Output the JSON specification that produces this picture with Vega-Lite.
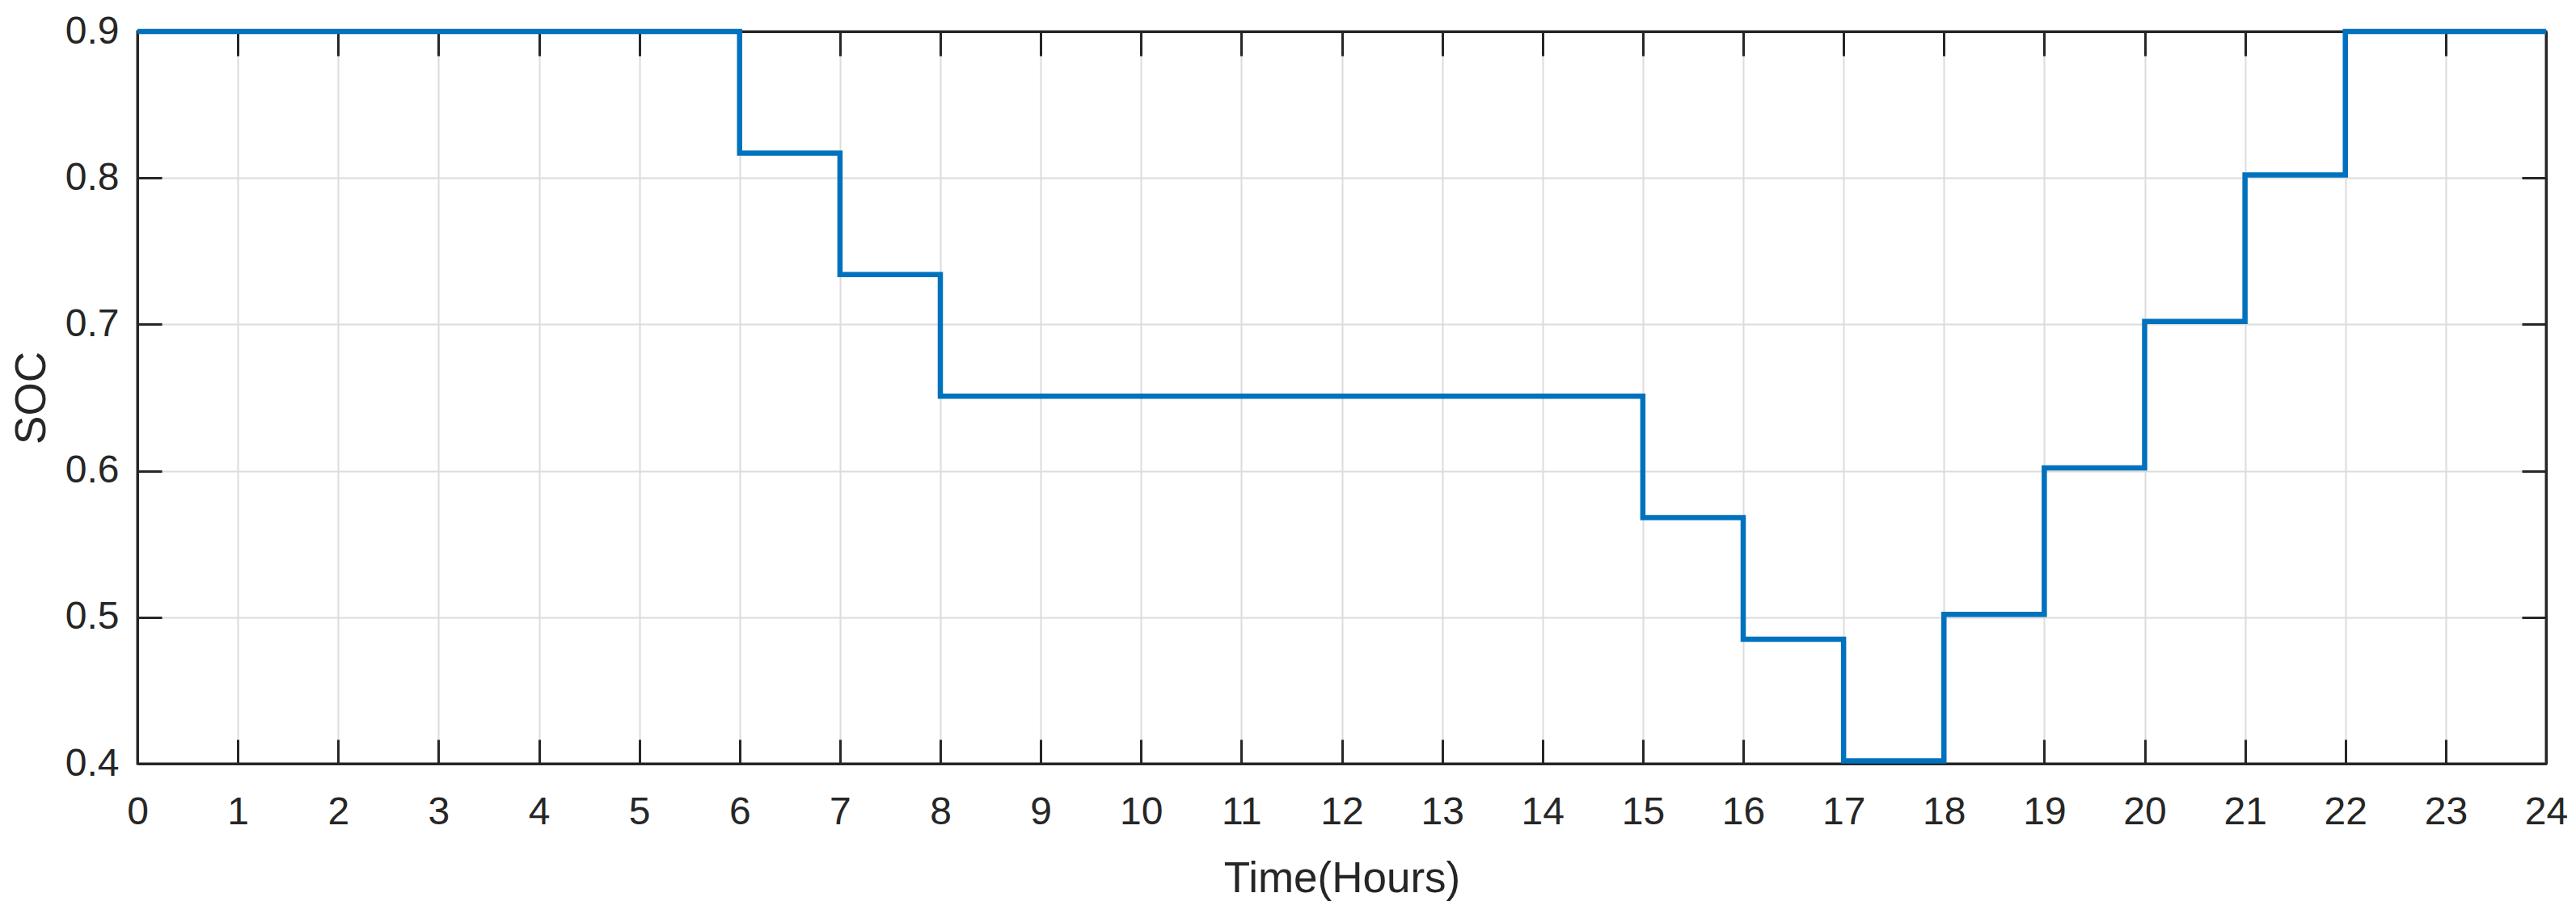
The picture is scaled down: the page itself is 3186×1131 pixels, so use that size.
{
  "$schema": "https://vega.github.io/schema/vega-lite/v6.json",
  "autosize": {"type": "none"},
  "width": 2979,
  "height": 906,
  "padding": {"left": 170, "top": 39, "right": 37, "bottom": 186},
  "background": "white",
  "config": {
    "view": {"stroke": "#262626", "strokeWidth": 3},
    "font": "Liberation Sans",
    "axis": {
      "labelFont": "Liberation Sans",
      "titleFont": "Liberation Sans",
      "labelColor": "#262626",
      "titleColor": "#262626",
      "labelFontSize": 48,
      "titleFontSize": 53,
      "titleFontWeight": "normal",
      "domainColor": "#262626",
      "domainWidth": 3,
      "tickColor": "#262626",
      "tickWidth": 3,
      "tickSize": -30,
      "gridColor": "#dcdcdc",
      "gridWidth": 2
    }
  },
  "data": {
    "values": [
      {"hour": 0, "soc": 0.9},
      {"hour": 1, "soc": 0.9},
      {"hour": 2, "soc": 0.9},
      {"hour": 3, "soc": 0.9},
      {"hour": 4, "soc": 0.9},
      {"hour": 5, "soc": 0.9},
      {"hour": 6, "soc": 0.817},
      {"hour": 7, "soc": 0.734},
      {"hour": 8, "soc": 0.651},
      {"hour": 9, "soc": 0.651},
      {"hour": 10, "soc": 0.651},
      {"hour": 11, "soc": 0.651},
      {"hour": 12, "soc": 0.651},
      {"hour": 13, "soc": 0.651},
      {"hour": 14, "soc": 0.651},
      {"hour": 15, "soc": 0.568},
      {"hour": 16, "soc": 0.485},
      {"hour": 17, "soc": 0.402},
      {"hour": 18, "soc": 0.502},
      {"hour": 19, "soc": 0.602},
      {"hour": 20, "soc": 0.702},
      {"hour": 21, "soc": 0.802},
      {"hour": 22, "soc": 0.9},
      {"hour": 23, "soc": 0.9},
      {"hour": 24, "soc": 0.9}
    ]
  },
  "layer": [
    {
      "mark": {"type": "line", "interpolate": "step-after", "color": "#0072BD", "strokeWidth": 6.5},
      "encoding": {
        "x": {
          "field": "hour",
          "type": "quantitative",
          "scale": {"domain": [0, 24], "nice": false, "zero": false},
          "axis": {
            "title": "Time(Hours)",
            "values": [0,1,2,3,4,5,6,7,8,9,10,11,12,13,14,15,16,17,18,19,20,21,22,23,24],
            "labelPadding": 66,
            "labelFlush": false,
            "titleX": 1489.5,
            "titleY": 158,
            "titleBaseline": "alphabetic",
            "titleAlign": "center",
            "grid": true
          }
        },
        "y": {
          "field": "soc",
          "type": "quantitative",
          "scale": {"domain": [0.4, 0.9], "nice": false, "zero": false},
          "axis": {
            "title": "SOC",
            "values": [0.4, 0.5, 0.6, 0.7, 0.8, 0.9],
            "format": ".1f",
            "labelPadding": 53,
            "labelFlush": false,
            "titleX": -115,
            "titleY": 453,
            "titleAngle": -90,
            "titleBaseline": "alphabetic",
            "titleAlign": "center",
            "grid": true
          }
        }
      }
    },
    {
      "mark": {"type": "rule", "opacity": 0},
      "encoding": {
        "x": {
          "field": "hour",
          "type": "quantitative",
          "axis": {
            "orient": "top",
            "title": null,
            "labels": false,
            "grid": false,
            "values": [0,1,2,3,4,5,6,7,8,9,10,11,12,13,14,15,16,17,18,19,20,21,22,23,24]
          }
        },
        "y": {
          "field": "soc",
          "type": "quantitative",
          "axis": {
            "orient": "right",
            "title": null,
            "labels": false,
            "grid": false,
            "values": [0.4, 0.5, 0.6, 0.7, 0.8, 0.9]
          }
        }
      }
    }
  ],
  "resolve": {"axis": {"x": "independent", "y": "independent"}}
}
